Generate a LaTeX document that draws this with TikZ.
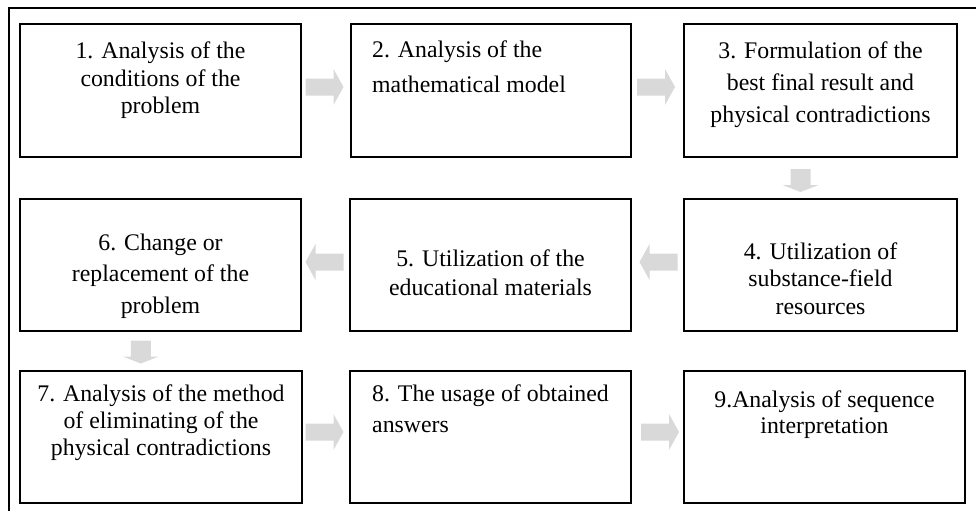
\documentclass[tikz,border=0pt]{standalone}
\usepackage{fontspec}
\setmainfont{Liberation Serif}
\usetikzlibrary{calc}

\definecolor{arrowgray}{HTML}{D9D9D9}

% Lines of one box: prefix, anchor, x, first baseline, line pitch, lines
\newcommand\stackedlines[6]{%
  \foreach \thisline [count=\k from 0] in {#6}{%
    \node[boxtext, anchor=#2] (#1-\k) at ({#3}, {#4+\k*#5}) {\thisline};
  }%
}

\tikzset{
  stepbox/.style={draw=black, line width=1.6pt, rectangle, inner sep=0pt, fill=white},
  boxtext/.style={font=\fontsize{23.8}{27}\selectfont, inner sep=0pt, text=black},
  frameline/.style={draw=black, line width=1.8pt},
  rightarrow/.pic={\fill[arrowgray] (-19,-8.5) -- (9,-8.5) -- (9,-18) -- (19,0)
      -- (9,18) -- (9,8.5) -- (-19,8.5) -- cycle;},
  leftarrow/.pic={\fill[arrowgray] (19,-8.5) -- (-9,-8.5) -- (-9,-18) -- (-19,0)
      -- (-9,18) -- (-9,8.5) -- (19,8.5) -- cycle;},
  downarrow/.pic={\fill[arrowgray] (-10,-11.5) -- (-10,4.5) -- (-18,4.5) -- (0,11.5)
      -- (18,4.5) -- (10,4.5) -- (10,-11.5) -- cycle;},
}

\begin{document}
\begin{tikzpicture}[x=1pt, y=-1pt]
  \useasboundingbox (0,0) rectangle (976,511);

  % outer frame: top and left edges only
  \draw[frameline] (976,8) -- (9,8) -- (9,511);

  % boxes
  \node[stepbox, minimum width=281pt, minimum height=133pt] (b1) at (160.5,90.5) {};
  \node[stepbox, minimum width=280pt, minimum height=133pt] (b2) at (491,90.5) {};
  \node[stepbox, minimum width=273pt, minimum height=133pt] (b3) at (820.5,90.5) {};
  \node[stepbox, minimum width=273pt, minimum height=132pt] (b4) at (820.5,265) {};
  \node[stepbox, minimum width=281pt, minimum height=132pt] (b5) at (490.5,265) {};
  \node[stepbox, minimum width=281pt, minimum height=132pt] (b6) at (160.5,265) {};
  \node[stepbox, minimum width=282pt, minimum height=132pt] (b7) at (161,437) {};
  \node[stepbox, minimum width=281pt, minimum height=132pt] (b8) at (490.5,437) {};
  \node[stepbox, minimum width=281pt, minimum height=132pt] (b9) at (824.5,437) {};

  % box texts
  \stackedlines{t1}{base}{160.5}{59}{27}{1. Analysis of the, conditions of the, problem}
  \stackedlines{t2}{base west}{372}{57}{35}{2. Analysis of the, mathematical model}
  \stackedlines{t3}{base}{820.5}{59}{31.5}{3. Formulation of the, best final result and, physical contradictions}
  \stackedlines{t4}{base}{820.5}{259}{27.5}{4. Utilization of, substance-field, resources}
  \stackedlines{t5}{base}{490.5}{266}{29}{5. Utilization of the, educational materials}
  \stackedlines{t6}{base}{160.5}{250}{31.5}{6. Change or, replacement of the, problem}
  \stackedlines{t7}{base}{161}{401}{27}{7. Analysis of the method, of eliminating of the, physical contradictions}
  \stackedlines{t8}{base west}{372}{401}{31}{8. The usage of obtained, answers}
  \stackedlines{t9}{base}{824.5}{407}{26}{9.Analysis of sequence, interpretation}

  % block arrows between consecutive steps
  \pic at ($(b1.east)!0.5!(b2.west)+(-1.5,-3.5)$) {rightarrow};
  \pic at ($(b2.east)!0.5!(b3.west)+(-1.5,-3.5)$) {rightarrow};
  \pic at ($(b3.south)!0.5!(b4.north)+(-20,2.5)$) {downarrow};
  \pic at ($(b4.west)!0.5!(b5.east)+(1,-3)$) {leftarrow};
  \pic at ($(b5.west)!0.5!(b6.east)+(-1,-3)$) {leftarrow};
  \pic at ($(b6.south)!0.5!(b7.north)+(-20,1)$) {downarrow};
  \pic at ($(b7.east)!0.5!(b8.west)+(-1.5,-5)$) {rightarrow};
  \pic at ($(b8.east)!0.5!(b9.west)+(2.5,-5)$) {rightarrow};
\end{tikzpicture}
\end{document}
